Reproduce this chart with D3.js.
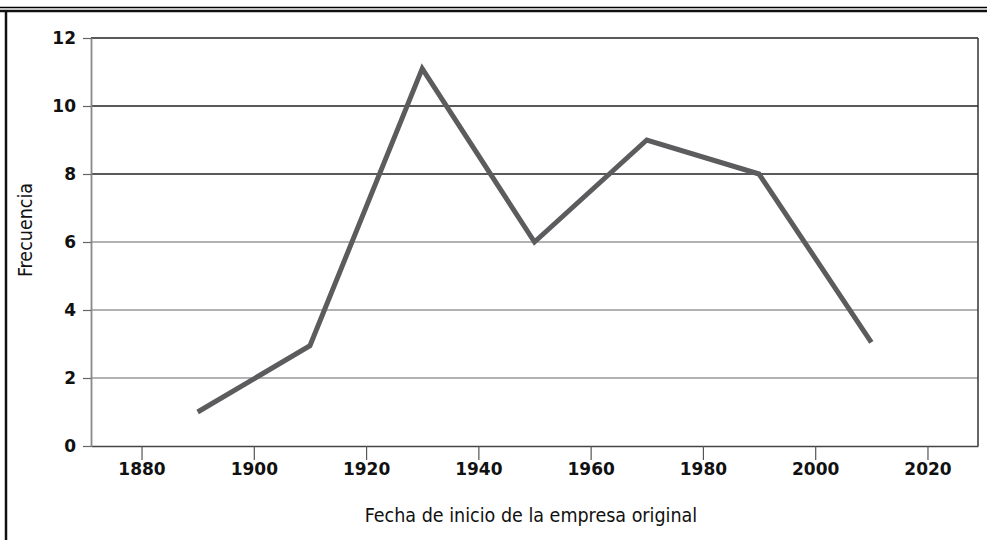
<!DOCTYPE html>
<html>
<head>
<meta charset="utf-8">
<script src="https://cdn.jsdelivr.net/npm/d3@7"></script>
<style>
  body { margin: 0; background: #fff; }
  svg { display: block; }
</style>
</head>
<body>
<svg id="chart" width="987" height="540"></svg>
<script>
// años de inicio y frecuencias
var years = [1890, 1910, 1930, 1950, 1970, 1990, 2010];
var freq = [1, 2.95, 11.1, 6, 9, 8, 3.05];
var xTicks = [1880, 1900, 1920, 1940, 1960, 1980, 2000, 2020];
var yTicks = [0, 2, 4, 6, 8, 10, 12];
var darkGrid = [8, 10, 12];

var svg = d3.select('#chart');
var plotLeft = 91, plotRight = 978, plotTop = 38, plotBottom = 446;

var x = d3.scaleLinear().domain([1871, 2029]).range([plotLeft, plotRight]);
var y = d3.scaleLinear().domain([0, 12]).range([plotBottom, plotTop]);

// marco de la pagina
svg.append('line').attr('x1', 0).attr('x2', 987).attr('y1', 7.5).attr('y2', 7.5)
  .style('stroke', '#000').style('stroke-width', 1.5);
svg.append('line').attr('x1', 0).attr('x2', 987).attr('y1', 11).attr('y2', 11)
  .style('stroke', '#111').style('stroke-width', 2.5);
svg.append('line').attr('x1', 6).attr('x2', 6).attr('y1', 10).attr('y2', 540)
  .style('stroke', '#111').style('stroke-width', 2.5);

// lineas de la rejilla
svg.selectAll('.grid')
  .data(yTicks.filter(function(d) { return d > 0; }))
  .enter().append('line')
  .attr('class', 'grid')
  .attr('x1', plotLeft).attr('x2', plotRight)
  .attr('y1', function(d) { return y(d); })
  .attr('y2', function(d) { return y(d); })
  .style('stroke', function(d) { return darkGrid.indexOf(d) >= 0 ? '#222' : '#999'; })
  .style('stroke-width', 1.3);

// borde derecho
svg.append('line').attr('x1', plotRight).attr('x2', plotRight).attr('y1', plotTop).attr('y2', plotBottom)
  .style('stroke', '#333').style('stroke-width', 1.5);

// ejes
var xAxis = svg.append('g')
  .attr('transform', 'translate(0,' + plotBottom + ')')
  .call(d3.axisBottom(x).tickValues(xTicks).tickFormat(d3.format('d')).tickSize(14).tickSizeOuter(0).tickPadding(3));
xAxis.select('.domain').style('stroke', '#444').style('stroke-width', 1.5);
xAxis.selectAll('.tick line').style('stroke', '#555').style('stroke-width', 1.2);

var yAxis = svg.append('g')
  .attr('transform', 'translate(' + plotLeft + ',0)')
  .call(d3.axisLeft(y).tickValues(yTicks).tickSize(8).tickSizeOuter(0).tickPadding(7));
yAxis.select('.domain').style('stroke', '#888').style('stroke-width', 1.8);
yAxis.selectAll('.tick line').style('stroke', '#666').style('stroke-width', 1.2);

svg.selectAll('.tick text')
  .style('font-family', 'DejaVu Sans')
  .style('font-weight', 'bold')
  .style('font-size', '17px')
  .style('fill', '#111');

// serie
var line = d3.line()
  .x(function(d, i) { return x(years[i]); })
  .y(function(d) { return y(d); });

svg.append('path')
  .datum(freq)
  .attr('d', line)
  .style('fill', 'none')
  .style('stroke', '#5c5c5e')
  .style('stroke-width', 5)
  .style('stroke-linejoin', 'miter');

// titulos de los ejes
svg.append('text')
  .attr('x', 531).attr('y', 522)
  .attr('text-anchor', 'middle')
  .style('font-family', 'DejaVu Sans Condensed, sans-serif')
  .style('font-size', '19.5px')
  .style('fill', '#111')
  .text('Fecha de inicio de la empresa original');

svg.append('text')
  .attr('transform', 'translate(32,230) rotate(-90)')
  .attr('text-anchor', 'middle')
  .style('font-family', 'DejaVu Sans Condensed, sans-serif')
  .style('font-size', '19.5px')
  .style('fill', '#111')
  .text('Frecuencia');
</script>
</body>
</html>
